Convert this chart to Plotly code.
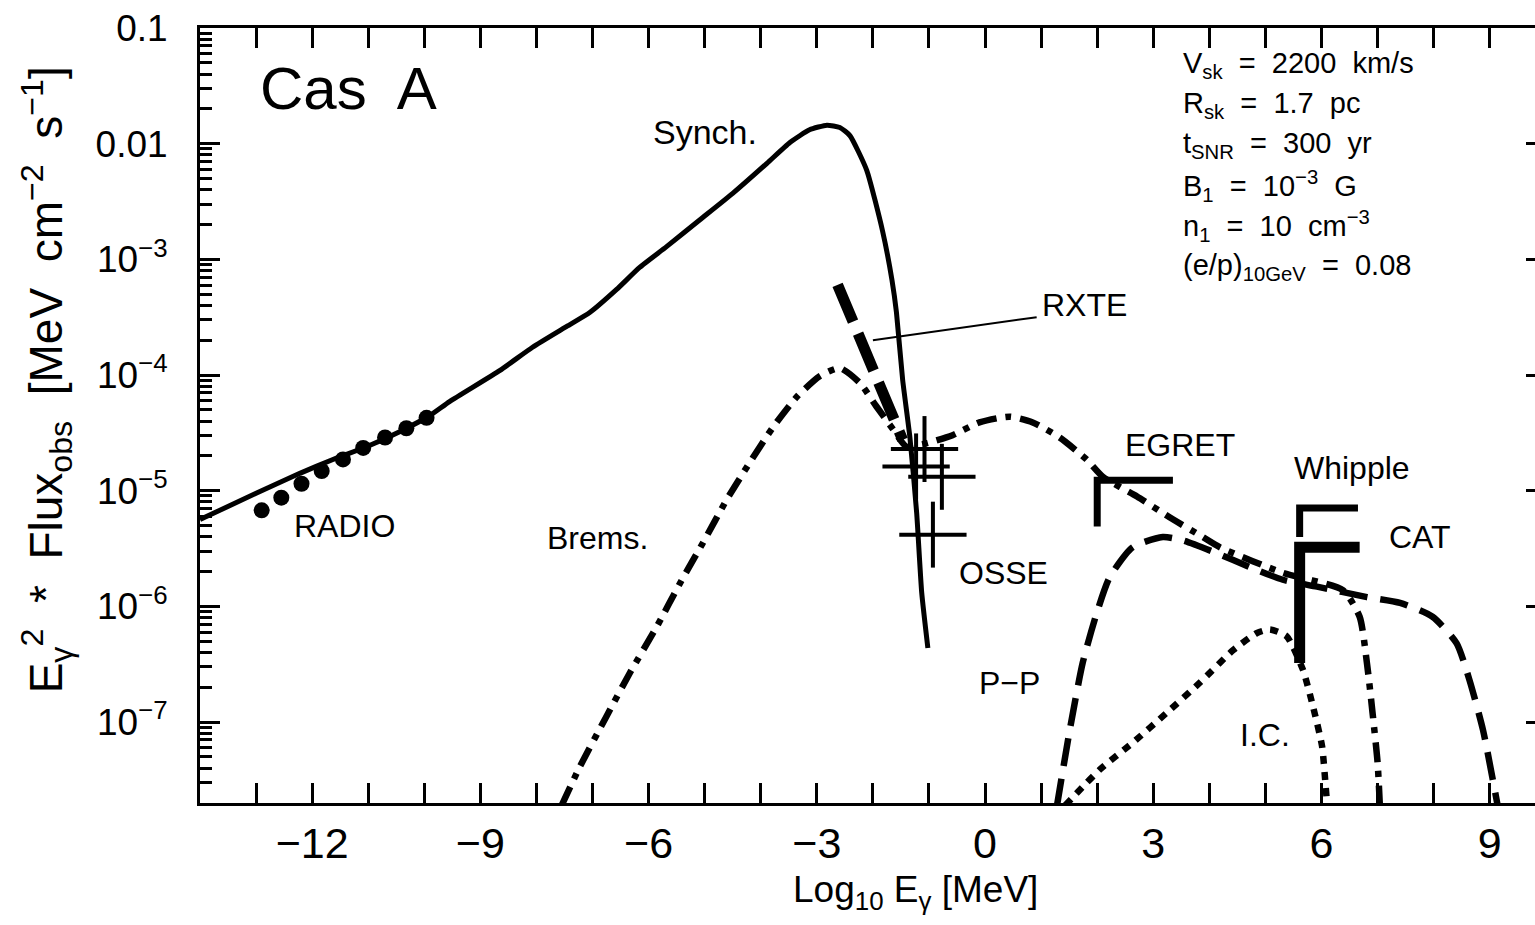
import plotly.graph_objects as go

# ---------------- data (log10 E [MeV], log10 E^2 F) ----------------
synch_logE = [-14.0, -12.99, -12.22, -11.63, -11.03, -10.44, -9.90, -9.55, -8.65, -8.07,
              -7.46, -7.05, -6.57, -6.16, -5.68, -5.09, -4.50, -3.89, -3.48, -3.13,
              -2.82, -2.59, -2.41, -2.11, -1.83, -1.66, -1.58, -1.47, -1.34, -1.22,
              -1.13, -1.02]
synch_logF = [-5.25, -5.02, -4.85, -4.73, -4.62, -4.49, -4.35, -4.23, -3.96, -3.76,
              -3.58, -3.46, -3.26, -3.07, -2.89, -2.66, -2.43, -2.17, -1.99, -1.88,
              -1.84, -1.86, -1.93, -2.23, -2.75, -3.18, -3.46, -4.04, -4.54, -5.19,
              -5.88, -6.36]

radio_logE = [-12.90, -12.55, -12.19, -11.83, -11.45, -11.09, -10.70, -10.32, -9.96]
radio_logF = [-5.17, -5.06, -4.94, -4.83, -4.73, -4.63, -4.54, -4.46, -4.37]

brems_logE = [-7.55, -7.23, -6.75, -6.34, -5.86, -5.44, -5.03, -4.61, -4.20, -3.78,
              -3.36, -2.95, -2.59, -2.23, -1.94, -1.64, -1.40, -1.05, -0.58, -0.10,
              0.44, 0.85, 1.33, 1.81, 2.10, 2.71, 3.29, 3.88, 4.19, 5.31,
              6.38, 6.68, 6.81, 6.91, 7.00, 7.04]
brems_logF = [-7.72, -7.39, -6.95, -6.58, -6.18, -5.80, -5.45, -5.08, -4.76, -4.45,
              -4.19, -4.01, -3.94, -4.07, -4.27, -4.47, -4.62, -4.59, -4.52, -4.41,
              -4.36, -4.41, -4.54, -4.73, -4.88, -5.05, -5.23, -5.40, -5.49, -5.71,
              -5.86, -6.09, -6.49, -6.92, -7.35, -7.72]

pp_logE = [1.28, 1.51, 1.74, 1.99, 2.22, 2.63, 3.17, 3.53, 4.13, 4.72,
           5.31, 5.92, 6.81, 7.40, 7.98, 8.41, 8.64, 8.88, 9.14]
pp_logF = [-7.73, -7.07, -6.49, -6.06, -5.75, -5.49, -5.40, -5.43, -5.54, -5.66,
           -5.77, -5.83, -5.92, -5.97, -6.09, -6.32, -6.64, -7.07, -7.72]

ic_logE = [1.43, 2.05, 2.63, 3.24, 3.83, 4.42, 4.85, 5.08, 5.38, 5.67, 5.85, 6.01, 6.09, 6.11]
ic_logF = [-7.72, -7.41, -7.18, -6.92, -6.66, -6.38, -6.23, -6.20, -6.26, -6.55, -6.87, -7.21, -7.65, -7.72]

rxte_logE = [-2.63, -1.47]
rxte_logF = [-3.22, -4.56]
rxte_leader_logE = [-2.00, 0.92]
rxte_leader_logF = [-3.70, -3.50]

osse_logE = [-1.08, -1.23, -0.77, -0.93]
osse_logF = [-4.64, -4.79, -4.88, -5.38]
osse_half_dE = [0.6, 0.6, 0.6, 0.6]
osse_half_dlogF = [0.285, 0.285, 0.285, 0.285]

egret_logE = [3.35, 2.00, 2.00]
egret_logF = [-4.91, -4.91, -5.31]
whipple_logE = [6.65, 5.61, 5.61]
whipple_logF = [-5.15, -5.15, -5.40]
cat_logE = [6.68, 5.61, 5.61]
cat_logF = [-5.49, -5.49, -6.49]

x_ticks = [-12, -9, -6, -3, 0, 3, 6, 9]
x_ticktext = ["\u221212", "\u22129", "\u22126", "\u22123", "0", "3", "6", "9"]
y_ticks = [1e-7, 1e-6, 1e-5, 1e-4, 1e-3, 0.01, 0.1]
y_ticktext = ["10<sup>\u22127</sup>", "10<sup>\u22126</sup>", "10<sup>\u22125</sup>",
              "10<sup>\u22124</sup>", "10<sup>\u22123</sup>", "0.01", "0.1"]
y_minor = [k * 10.0 ** n for n in range(-8, -1) for k in range(2, 10)]

params = ["V<sub>sk</sub>  =  2200  km/s",
          "R<sub>sk</sub>  =  1.7  pc",
          "t<sub>SNR</sub>  =  300  yr",
          "B<sub>1</sub>  =  10<sup>\u22123</sup>  G",
          "n<sub>1</sub>  =  10  cm<sup>\u22123</sup>",
          "(e/p)<sub>10GeV</sub>  =  0.08"]
params_logF = [-1.32, -1.666, -2.011, -2.366, -2.711, -3.066]

labels = ["Synch.", "RXTE", "EGRET", "Whipple", "CAT", "OSSE", "RADIO", "Brems.", "P\u2212P", "I.C."]
labels_logE = [-4.99, 1.78, 3.48, 6.55, 7.76, 0.32, -11.42, -6.92, 0.44, 4.99]
labels_logF = [-1.895, -3.394, -4.604, -4.803, -5.399, -5.71, -5.304, -5.408, -6.661, -7.111]

FONT = "Liberation Sans, Arial, sans-serif"


def lin(v):
    return [10.0 ** a for a in v]


fig = go.Figure()

def line(x, ly, width, dash="solid", shape="spline", smoothing=0.6, yaxis="y"):
    fig.add_trace(go.Scatter(x=x, y=lin(ly), mode="lines", yaxis=yaxis,
                             line=dict(color="black", width=width, dash=dash,
                                       shape=shape, smoothing=smoothing),
                             hoverinfo="skip"))

line(synch_logE, synch_logF, 5, smoothing=0.5)
line(brems_logE, brems_logF, 6.5, dash="20px,9px,6px,9px", smoothing=0.6)
line(pp_logE, pp_logF, 6.5, dash="28px,13px", smoothing=0.6)
line(ic_logE, ic_logF, 6.5, dash="8px,8px", smoothing=0.6)
line(rxte_logE, rxte_logF, 11, dash="40px,13px", shape="linear")
line(rxte_leader_logE, rxte_leader_logF, 2, shape="linear", yaxis="y2")
line(egret_logE, egret_logF, 7, shape="linear")
line(whipple_logE, whipple_logF, 7, shape="linear")
line(cat_logE, cat_logF, 11, shape="linear")

fig.add_trace(go.Scatter(x=radio_logE, y=lin(radio_logF), mode="markers",
                         marker=dict(color="black", size=16, symbol="circle"),
                         hoverinfo="skip"))

osse_y = lin(osse_logF)
osse_up = [10.0 ** (a + d) - 10.0 ** a for a, d in zip(osse_logF, osse_half_dlogF)]
osse_dn = [10.0 ** a - 10.0 ** (a - d) for a, d in zip(osse_logF, osse_half_dlogF)]
fig.add_trace(go.Scatter(x=osse_logE, y=osse_y, mode="markers",
                         marker=dict(size=1, color="rgba(0,0,0,0)"),
                         error_x=dict(type="data", array=osse_half_dE, color="black",
                                      thickness=4, width=0),
                         error_y=dict(type="data", array=osse_up, arrayminus=osse_dn,
                                      symmetric=False, color="black", thickness=4, width=0),
                         hoverinfo="skip"))

ann = []
ann.append(dict(x=-12.97, y=-1.523, xref="x", yref="y", text="Cas  A", showarrow=False,
                xanchor="left", yanchor="middle", font=dict(size=60, family=FONT, color="black")))
for t, lx, ly in zip(labels, labels_logE, labels_logF):
    ann.append(dict(x=lx, y=ly, xref="x", yref="y", text=t, showarrow=False,
                    xanchor="center", yanchor="middle",
                    font=dict(size=34 if t == "Synch." else 32, family=FONT, color="black")))
for t, ly in zip(params, params_logF):
    ann.append(dict(x=3.49, y=ly, xref="x", yref="y", text=t, showarrow=False,
                    xanchor="left", yanchor="middle", font=dict(size=29, family=FONT, color="black")))
ann.append(dict(x=0.5356, y=-0.082, xref="paper", yref="paper",
                text="Log<sub>10</sub> E<sub>\u03b3</sub> [MeV]", showarrow=False,
                xanchor="center", yanchor="top", font=dict(size=37, family=FONT, color="black")))
ann.append(dict(x=-0.115, y=0.546, xref="paper", yref="paper", textangle=-90,
                text="E<sub>\u03b3</sub><sup>2</sup>  *  Flux<sub>obs</sub>  [MeV  cm<sup>\u22122</sup>  s<sup>\u22121</sup>]",
                showarrow=False, xanchor="center", yanchor="middle",
                font=dict(size=46, family=FONT, color="black")))

fig.update_layout(
    width=1535, height=925,
    margin=dict(l=200, r=0, t=28, b=122),
    paper_bgcolor="white", plot_bgcolor="white",
    showlegend=False,
    annotations=ann,
    xaxis=dict(range=[-14, 9.807], tickmode="array", tickvals=x_ticks, ticktext=x_ticktext,
               ticks="inside", ticklen=20, tickwidth=3, tickcolor="black",
               showline=True, linewidth=3, linecolor="black", mirror="allticks",
               showgrid=False, zeroline=False, ticklabelstandoff=0,
               tickfont=dict(size=43, family=FONT, color="black"),
               minor=dict(tickmode="linear", tick0=0, dtick=1, ticks="inside", ticklen=10,
                          tickwidth=3, tickcolor="black", showgrid=False)),
    yaxis=dict(type="log", range=[-7.7, -1], tickmode="array", tickvals=y_ticks, ticktext=y_ticktext,
               ticks="inside", ticklen=20, tickwidth=3, tickcolor="black",
               showline=True, linewidth=3, linecolor="black", mirror=False,
               showgrid=False, zeroline=False, ticklabelstandoff=22,
               tickfont=dict(size=37, family=FONT, color="black"),
               minor=dict(tickmode="array", tickvals=y_minor, ticks="inside", ticklen=12,
                          tickwidth=3, tickcolor="black", showgrid=False)),
    yaxis2=dict(type="log", range=[-7.7, -1], overlaying="y", side="right",
                tickmode="array", tickvals=y_ticks, ticks="inside", ticklen=9, tickwidth=3,
                tickcolor="black", showticklabels=False, showline=False, showgrid=False,
                zeroline=False),
)

fig.write_html("out.html")
